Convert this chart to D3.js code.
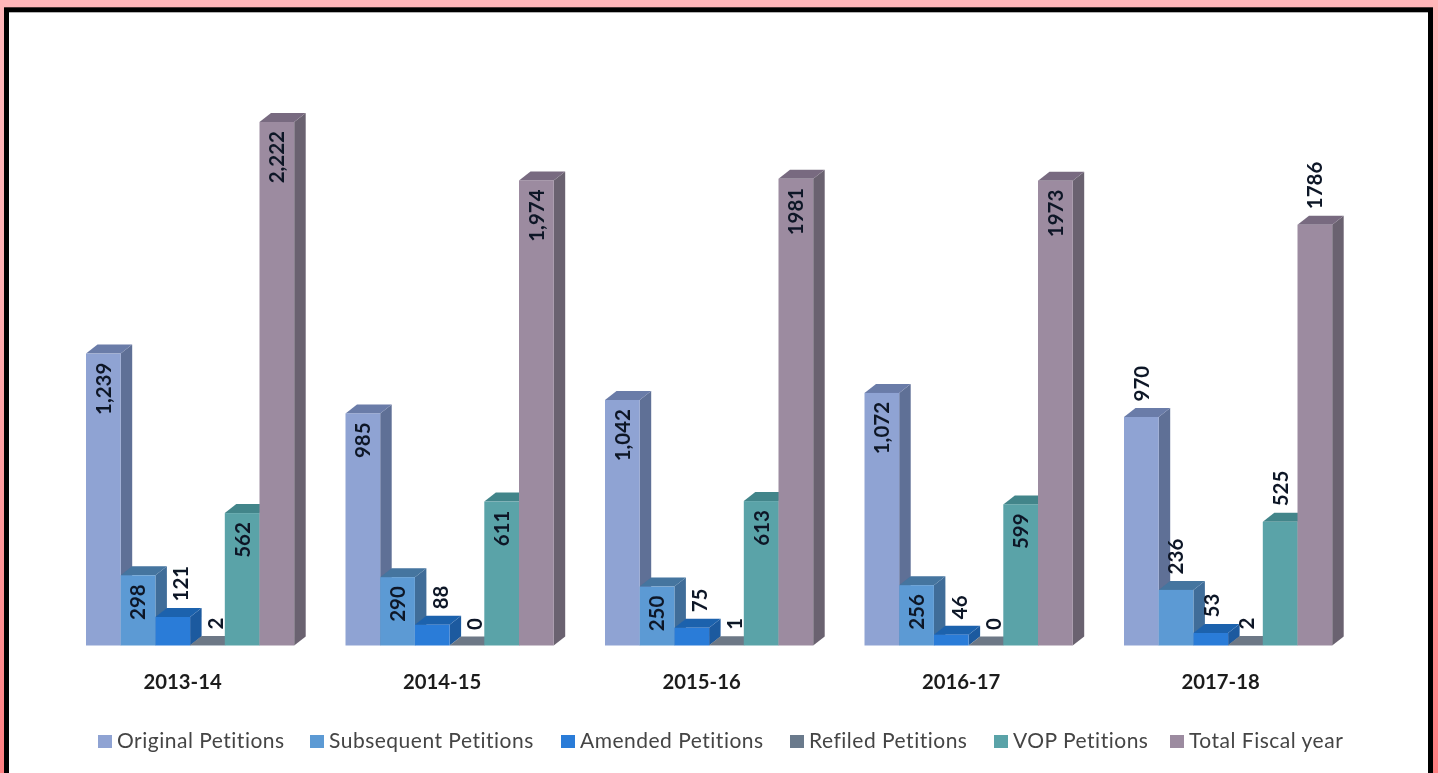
<!DOCTYPE html>
<html><head><meta charset="utf-8">
<script src="https://cdn.jsdelivr.net/npm/d3@7/dist/d3.min.js"></script>
<style>html,body{margin:0;padding:0;overflow:hidden;height:773px;background:linear-gradient(#ffb6b9 0%,#ffb0b3 35%,#ff7f82 100%)}svg{display:block}</style>
</head><body><div id="c"></div>
<script>
const years = ["2013-14","2014-15","2015-16","2016-17","2017-18"];
const seriesNames = ["Original Petitions","Subsequent Petitions","Amended Petitions","Refiled Petitions","VOP Petitions","Total Fiscal year"];
const original = [1239,985,1042,1072,970];
const subsequent = [298,290,250,256,236];
const amended = [121,88,75,46,53];
const refiled = [2,0,1,0,2];
const vop = [562,611,613,599,525];
const total = [2222,1974,1981,1973,1786];
const originalLabels = ["1,239","985","1,042","1,072","970"];
const subsequentLabels = ["298","290","250","256","236"];
const amendedLabels = ["121","88","75","46","53"];
const refiledLabels = ["2","0","1","0","2"];
const vopLabels = ["562","611","613","599","525"];
const totalLabels = ["2,222","1,974","1981","1973","1786"];
const frontColors = ["#8fa3d3","#5b9ad4","#2a7bd8","#6b7a8c","#5aa3a8","#9c8ba0"];
const sideColors = ["#5e6f96","#3f6d99","#1c5a9f","#5b6675","#3c7c7e","#6a6270"];
const topColors = ["#6a7ba8","#44749f","#1f62ad","#6d7886","#43858a","#786b80"];
const insideYears = ["2013-14","2014-15","2015-16","2016-17"];

const allValues = [original,subsequent,amended,refiled,vop,total];
const allLabels = [originalLabels,subsequentLabels,amendedLabels,refiledLabels,vopLabels,totalLabels];
const W=1438,H=773;
const svg=d3.select("#c").append("svg").attr("width",W).attr("height",H);
const soft=svg.append("defs").append("filter").attr("id","soft").attr("x",0).attr("y",0).attr("filterUnits","userSpaceOnUse")
  .attr("width",W).attr("height",H);
soft.append("feGaussianBlur").attr("stdDeviation",0.55);
svg.append("rect").attr("x",6.5).attr("y",9.8).attr("width",1424).attr("height",800)
  .attr("fill","#fff").attr("stroke","#000").attr("stroke-width",5);
const chart=svg.append("g").attr("filter","url(#soft)");

const bottom=645.5, depthX=11.5, depthY=9;
const y=d3.scaleLinear().domain([0,2222]).range([bottom,122]);
const x0=d3.scaleBand().domain(years).range([86,86+259.5*5]);
const groupW=34.7*6;
const x1=d3.scaleBand().domain(d3.range(6)).range([0,groupW]);
const font="Lato, 'Open Sans', sans-serif";
const g=chart.append("g");
years.forEach((yr,i)=>{
  const gx=x0(yr);
  allValues.forEach((vals,s)=>{
    const v=vals[i], xl=gx+x1(s), w=x1.bandwidth(), t=y(v);
    const xr=xl+w;
    g.append("polygon").attr("points",[[xr,t],[xr+depthX,t-depthY],[xr+depthX,bottom-depthY],[xr,bottom]].join(" ")).attr("fill",sideColors[s]);
    g.append("polygon").attr("points",[[xl,t],[xl+depthX,t-depthY],[xr+depthX,t-depthY],[xr,t]].join(" ")).attr("fill",topColors[s]);
    g.append("rect").attr("x",xl).attr("y",t).attr("width",w).attr("height",bottom-t).attr("fill",frontColors[s]);
  });
});
const labels=chart.append("g");
years.forEach((yr,i)=>{
  const gx=x0(yr), inside=insideYears.includes(yr);
  allValues.forEach((vals,s)=>{
    const small = s===2||s===3;
    const w=x1.bandwidth(), t=y(vals[i]);
    const isIn = inside && !small;
    const cx=gx+x1(s)+w/2+(small&&inside?8:small?1:0);
    const ly=isIn? t+9 : t-15.5;
    labels.append("text").attr("transform",`translate(${cx},${ly}) rotate(-90)`)
      .attr("text-anchor",isIn?"end":"start").attr("dy","0.36em")
      .attr("font-family",font).attr("font-size",20.5).attr("font-weight",700).attr("fill","#101828")
      .text(allLabels[s][i]);
  });
  chart.append("text").attr("x",gx+groupW/2-7.5).attr("y",689).attr("text-anchor","middle")
    .attr("font-family",font).attr("font-size",20.3).attr("font-weight",700).attr("fill","#1c1c1c").text(yr);
});
const legendX=[98,310,561,790,994,1170];
seriesNames.forEach((n,s)=>{
  chart.append("rect").attr("x",legendX[s]).attr("y",735).attr("width",14).attr("height",13).attr("fill",frontColors[s]);
  chart.append("text").attr("x",legendX[s]+19).attr("y",748).attr("font-family",font).attr("font-size",21).attr("fill","#444").attr("letter-spacing",0.5).text(n);
});
</script></body></html>
